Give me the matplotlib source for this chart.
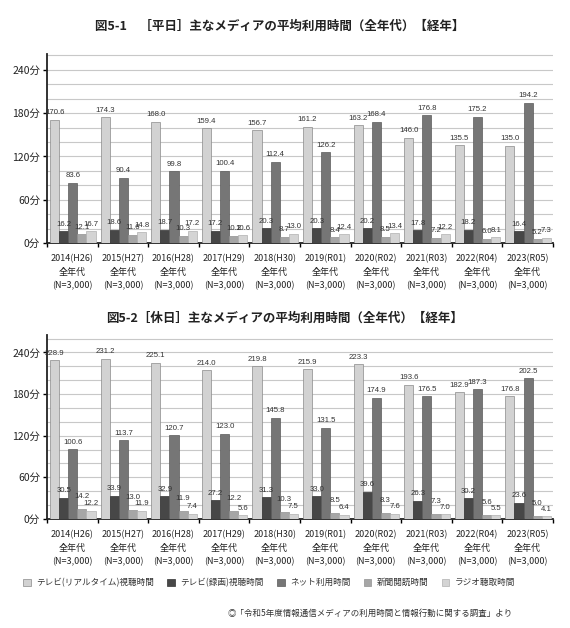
import numpy as np
import matplotlib
matplotlib.use("Agg")
import matplotlib.pyplot as plt
from matplotlib.patches import Patch

plt.rcParams['font.family'] = ['Noto Sans CJK JP', 'DejaVu Sans']

# years / tick labels
years = ["2014(H26)", "2015(H27)", "2016(H28)", "2017(H29)", "2018(H30)",
         "2019(R01)", "2020(R02)", "2021(R03)", "2022(R04)", "2023(R05)"]
tick_labels = [y + "\n全年代\n(N=3,000)" for y in years]

series_names = ["テレビ(リアルタイム)視聴時間", "テレビ(録画)視聴時間", "ネット利用時間",
                "新聞閲読時間", "ラジオ聴取時間"]

# weekday (図5-1)
wd_tv_live = [170.6, 174.3, 168.0, 159.4, 156.7, 161.2, 163.2, 146.0, 135.5, 135.0]
wd_tv_rec = [16.2, 18.6, 18.7, 17.2, 20.3, 20.3, 20.2, 17.8, 18.2, 16.4]
wd_net = [83.6, 90.4, 99.8, 100.4, 112.4, 126.2, 168.4, 176.8, 175.2, 194.2]
wd_news = [12.1, 11.6, 10.3, 10.2, 8.7, 8.4, 8.5, 7.2, 6.0, 5.2]
wd_radio = [16.7, 14.8, 17.2, 10.6, 13.0, 12.4, 13.4, 12.2, 8.1, 7.3]

# holiday (図5-2)
hd_tv_live = [228.9, 231.2, 225.1, 214.0, 219.8, 215.9, 223.3, 193.6, 182.9, 176.8]
hd_tv_rec = [30.5, 33.9, 32.9, 27.2, 31.3, 33.0, 39.6, 26.3, 30.2, 23.6]
hd_net = [100.6, 113.7, 120.7, 123.0, 145.8, 131.5, 174.9, 176.5, 187.3, 202.5]
hd_news = [14.2, 13.0, 11.9, 12.2, 10.3, 8.5, 8.3, 7.3, 5.6, 5.0]
hd_radio = [12.2, 11.9, 7.4, 5.6, 7.5, 6.4, 7.6, 7.0, 5.5, 4.1]

colors = ["#d2d2d2", "#474747", "#767676", "#a6a6a6", "#d4d4d4"]
edges = ["#8a8a8a", "#333333", "#5a5a5a", "#909090", "#b0b0b0"]

fig = plt.figure(figsize=(5.7, 6.28), dpi=100)


def draw_panel(ax, data, ymax, extra_off):
    x = np.arange(len(years))
    w = 0.18
    for k, vals in enumerate(data):
        pos = x + (k - 2) * w + 0.01
        ax.bar(pos, vals, width=w, color=colors[k], edgecolor=edges[k],
               linewidth=0.5, zorder=3)
        for px, v in zip(pos, vals):
            ax.annotate(f"{v:.1f}", (px, v), xytext=(0, 1.5 + extra_off[k]),
                        textcoords="offset points", ha="center", va="bottom",
                        fontsize=5.6, color="#333333", zorder=4,
                        family=['Liberation Sans', 'DejaVu Sans'])
    ax.set_xlim(-0.5, len(years) - 0.5)
    ax.set_ylim(0, ymax)
    ax.set_yticks(np.arange(0, 241, 60))
    ax.set_yticklabels([f"{t}分" for t in range(0, 241, 60)], fontsize=7.5, color="#222222")
    ax.set_yticks(np.arange(0, 261, 20), minor=True)
    ax.yaxis.grid(True, which="both", color="#c8c8c8", linewidth=0.8, zorder=0)
    ax.tick_params(axis="y", which="minor", length=0)
    ax.tick_params(axis="y", which="major", length=3, width=1, pad=2)
    # group separators as ticks, labels centred on groups
    ax.set_xticks(np.arange(len(years) + 1) - 0.5)
    ax.set_xticklabels([])
    ax.set_xticks(x, minor=True)
    ax.set_xticklabels(tick_labels, minor=True, fontsize=6.5, color="#222222",
                       linespacing=1.6)
    ax.tick_params(axis="x", which="minor", length=0, pad=8)
    ax.tick_params(axis="x", which="major", length=3, width=1, direction="out")
    for s in ["top", "right"]:
        ax.spines[s].set_visible(False)
    for s in ["left", "bottom"]:
        ax.spines[s].set_linewidth(1.3)
        ax.spines[s].set_color("#222222")


ax1 = fig.add_axes([0.0825, 0.613, 0.8875, 0.301])
draw_panel(ax1, [wd_tv_live, wd_tv_rec, wd_net, wd_news, wd_radio], 262,
           [1, 1, 1, 1, 1])
ax2 = fig.add_axes([0.0825, 0.1735, 0.8875, 0.293])
draw_panel(ax2, [hd_tv_live, hd_tv_rec, hd_net, hd_news, hd_radio], 265,
           [1, 1, 1, 5, 1])

fig.text(0.49, 0.958, "図5-1　［平日］主なメディアの平均利用時間（全年代）【経年】",
         ha="center", va="center", fontsize=9, fontweight="bold", color="#222222")
fig.text(0.50, 0.494, "図5-2［休日］主なメディアの平均利用時間（全年代）【経年】",
         ha="center", va="center", fontsize=9, fontweight="bold", color="#222222")

handles = [Patch(facecolor=colors[k], edgecolor=edges[k], linewidth=0.5)
           for k in range(5)]
fig.legend(handles, series_names, loc="center", bbox_to_anchor=(0.472, 0.072),
           ncol=5, frameon=False, fontsize=6.2, handlelength=0.9, handleheight=0.9,
           columnspacing=1.55, handletextpad=0.6, labelcolor="#333333")

fig.text(0.9, 0.024, "◎「令和5年度情報通信メディアの利用時間と情報行動に関する調査」より",
         ha="right", va="center", fontsize=6.1, color="#333333",
         family=['Noto Sans CJK JP', 'DejaVu Sans'])

fig.savefig("out.png", dpi=100)
